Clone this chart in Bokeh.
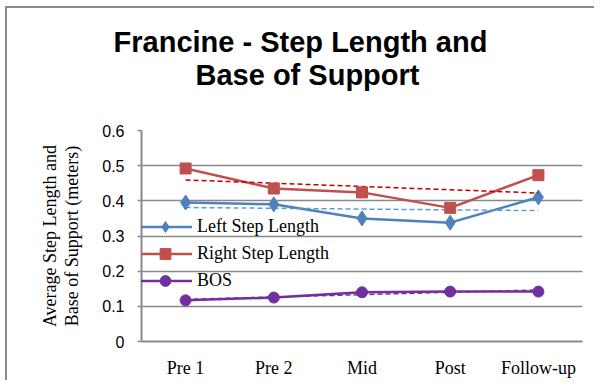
import numpy as np
from bokeh.plotting import figure
from bokeh.layouts import column
from bokeh.models import (FactorRange, Range1d, FixedTicker, NumeralTickFormatter,
                          Legend, LegendItem, ColumnDataSource, Div)
from bokeh.embed import file_html
from bokeh.resources import INLINE

# ---- data ----
categories = ["Pre 1", "Pre 2", "Mid", "Post", "Follow-up"]
left_step = [0.395, 0.39, 0.35, 0.338, 0.41]
right_step = [0.492, 0.435, 0.424, 0.38, 0.473]
bos = [0.117, 0.125, 0.14, 0.142, 0.142]
series_names = ["Left Step Length", "Right Step Length", "BOS"]
y_ticks = [0, 0.1, 0.2, 0.3, 0.4, 0.5, 0.6]
title_lines = ["Francine - Step Length and", "Base of Support"]
y_label = "Average Step Length and\nBase of Support (meters)"

GRAY = "#898989"
SERIF = "Times New Roman"
W = 587

title_div = Div(
    text=(f"<div style='width:{W}px;text-align:center'>"
          f"<div style='width:{W}px;text-align:center'>{title_lines[0]}</div>"
          f"<div style='width:{W}px;text-align:center;position:relative;left:7px'>{title_lines[1]}</div>"
          f"</div>"),
    width=W, height=100,
    styles={"font-family": "'Liberation Sans', Arial, sans-serif", "font-weight": "bold",
            "font-size": "29px", "line-height": "33px", "color": "black",
            "padding-top": "18px", "box-sizing": "border-box", "margin": "0",
            "background": "white"})

p = figure(width=W, height=272, x_range=FactorRange(*categories, range_padding=0),
           y_range=Range1d(0, 0.6), output_backend="svg", toolbar_location=None,
           min_border_left=134, min_border_right=12, min_border_top=22,
           min_border_bottom=38)
p.outline_line_color = None
p.title.visible = False
p.background_fill_color = "white"
p.border_fill_color = "white"

# axes
p.xgrid.visible = False
p.ygrid.grid_line_color = GRAY
p.ygrid.grid_line_width = 1.5
p.yaxis.ticker = FixedTicker(ticks=y_ticks)
p.yaxis.formatter = NumeralTickFormatter(format="0.[0]")
p.yaxis.major_label_text_font = "Liberation Sans"
p.yaxis.major_label_text_font_size = "16px"
p.yaxis.major_label_text_color = "black"
p.yaxis.major_tick_out = 4
p.yaxis.major_tick_in = 0
p.yaxis.minor_tick_line_color = None
p.yaxis.major_label_standoff = 13
p.yaxis.axis_label = y_label
p.yaxis.axis_label_text_font = SERIF
p.yaxis.axis_label_text_font_size = "18px"
p.yaxis.axis_label_text_font_style = "normal"
p.yaxis.axis_label_text_color = "black"
p.yaxis.axis_label_text_line_height = 1.1
p.yaxis.axis_label_standoff = 17
p.xaxis.major_tick_line_color = None
p.xaxis.minor_tick_line_color = None
p.xaxis.major_label_text_font = SERIF
p.xaxis.major_label_text_font_size = "18px"
p.xaxis.major_label_text_color = "black"
p.xaxis.major_label_standoff = 10
for ax in (p.xaxis[0], p.yaxis[0]):
    ax.axis_line_color = GRAY
    ax.axis_line_width = 2
    ax.major_tick_line_color = GRAY if ax is p.yaxis[0] else None
    ax.major_tick_line_width = 1.5

# series
colors = ["#4F81BD", "#C0504D", "#7030A0"]
trend_colors = ["#5B9BD5", "#C00000", "#7030A0"]
markers = ["diamond", "square", "circle"]
msizes = [15, 11, 11]
values = [left_step, right_step, bos]
xnum = np.arange(len(categories))

items = []
for vals, c, tc, mk, ms, name in zip(values, colors, trend_colors, markers, msizes, series_names):
    src = ColumnDataSource(dict(x=categories, y=vals))
    lr = p.line("x", "y", source=src, line_color=c, line_width=2.5)
    slope, inter = np.polyfit(xnum, vals, 1)
    tsrc = ColumnDataSource(dict(x=[categories[0], categories[-1]],
                                 y=[inter, inter + slope * xnum[-1]]))
    p.line("x", "y", source=tsrc, line_color=tc, line_width=1.5, line_dash="5 3")
    sr = p.scatter("x", "y", source=src, marker=mk, size=ms, fill_color=c, line_color=c)
    items.append(LegendItem(label=name, renderers=[lr, sr]))

legend = Legend(items=items, location=(-3, 47), orientation="vertical",
                glyph_width=54, glyph_height=27, label_height=27, spacing=0,
                padding=0, margin=0, label_standoff=5,
                label_text_font=SERIF, label_text_font_size="18px",
                label_text_color="black",
                label_text_baseline="middle",
                border_line_color=None, background_fill_alpha=0)
p.add_layout(legend, "center")

layout = column(title_div, p, spacing=0)
layout.styles = {"border-left": f"2px solid {GRAY}", "border-top": f"2px solid {GRAY}",
                 "margin-left": "5px", "margin-top": "6px", "background": "white"}

open("out.html", "w").write(file_html(layout, INLINE))
